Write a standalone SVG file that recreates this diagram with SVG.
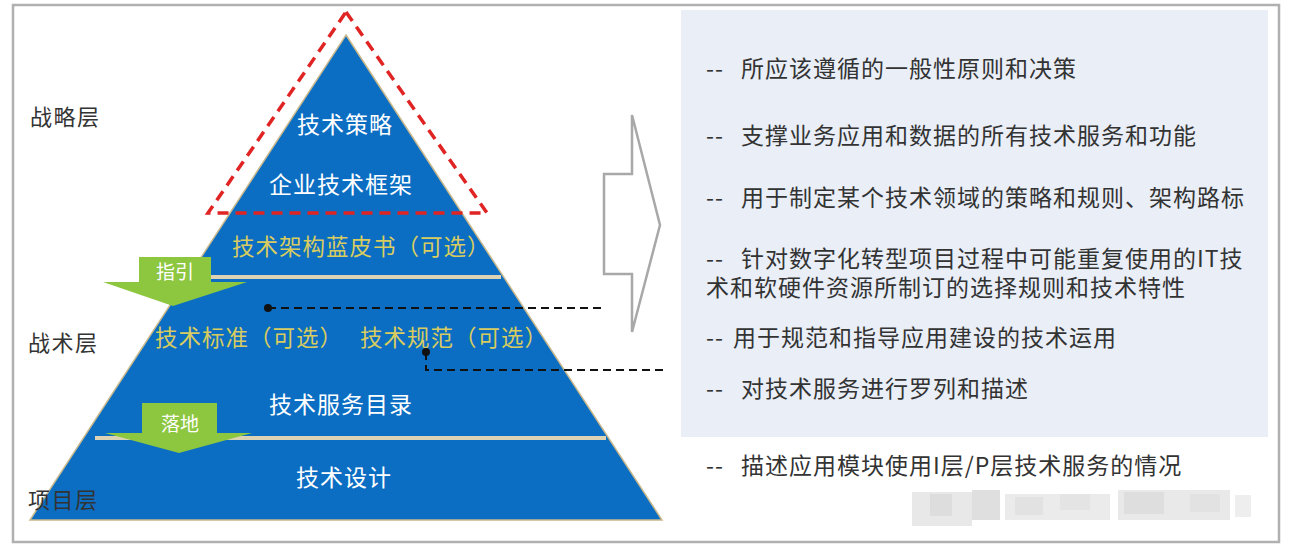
<svg xmlns="http://www.w3.org/2000/svg" width="1293" height="555" viewBox="0 0 1293 555">
<style>
text{font-family:"Noto Sans CJK SC","Noto Sans",sans-serif;}
.lbl{font-size:22px;fill:#333333;letter-spacing:1.5px;}
.w{font-size:23px;fill:#FFFFFF;text-anchor:middle;letter-spacing:1px;}
.y{font-size:22.5px;fill:#D8CC60;letter-spacing:1px;}
.g{font-size:19px;fill:#FFFFFF;text-anchor:middle;}
.r{font-size:23px;fill:#333333;letter-spacing:1px;}
.sep{stroke:#DCD2B4;stroke-width:4;}
.arrowG{fill:#8DC63F;}
.dash{fill:none;stroke:#111111;stroke-width:2;stroke-dasharray:8 5;}
</style>
<rect x="0" y="0" width="1293" height="555" fill="#FFFFFF"/>
<rect id="frame" x="13" y="5" width="1266" height="537" fill="none" stroke="#B0B0B0" stroke-width="2.5"/>
<rect id="panel" x="681" y="10" width="587" height="427" fill="#E9EEF7"/>

<g id="pyramid">
<polygon points="346,35 662,520 30,520" fill="#0B6EC3" stroke="#C9B88C" stroke-width="1.5"/>
<line class="sep" x1="192" y1="277" x2="501" y2="277"/>
<line class="sep" x1="95" y1="438" x2="606" y2="438"/>
</g>

<g id="labels">
<text class="lbl" x="30" y="125">战略层</text>
<text class="lbl" x="28" y="351">战术层</text>
<text class="lbl" x="28" y="508">项目层</text>
</g>

<g id="n-strategy"><text class="w" x="345" y="133">技术策略</text></g>
<g id="n-framework"><text class="w" x="341" y="193">企业技术框架</text></g>
<g id="n-bluebook"><text class="y" x="232" y="255">技术架构蓝皮书（可选）</text></g>
<g id="n-standard"><text class="y" x="155" y="346">技术标准（可选）</text></g>
<g id="n-spec"><text class="y" x="360" y="346">技术规范（可选）</text></g>
<g id="n-catalog"><text class="w" x="341" y="413">技术服务目录</text></g>
<g id="n-design"><text class="w" x="344" y="486">技术设计</text></g>

<g id="a-guide">
<polygon class="arrowG" points="139,257 211,257 211,282 247,282 173,306 103,282 139,282"/>
<text class="g" x="175" y="279">指引</text>
</g>
<g id="a-land">
<polygon class="arrowG" points="142,403 217,403 217,433 252,433 179,453 105,433 142,433"/>
<text class="g" x="180" y="431">落地</text>
</g>

<g id="red-box">
<polygon points="346,12 487,213 208,213" fill="none" stroke="#E02424" stroke-width="3.5" stroke-dasharray="11 7"/>
</g>

<g id="connectors">
<path class="dash" d="M268,308 H605"/>
<circle cx="268" cy="308" r="4" fill="#111111"/>
<path class="dash" d="M426,352 V370 H668"/>
<circle cx="426" cy="352" r="4" fill="#111111"/>
<polygon id="big-arrow" points="604,174 632,174 632,115 660,225 632,332 632,274 604,274" fill="none" stroke="#A8A8A8" stroke-width="2.5"/>
</g>

<g id="desc">
<text class="r" x="706" y="77">--<tspan x="741">所应该遵循的一般性原则和决策</tspan></text>
<text class="r" x="706" y="144">--<tspan x="741">支撑业务应用和数据的所有技术服务和功能</tspan></text>
<text class="r" x="706" y="206">--<tspan x="741">用于制定某个技术领域的策略和规则、架构路标</tspan></text>
<text class="r" x="706" y="267">--<tspan x="741">针对数字化转型项目过程中可能重复使用的IT技</tspan></text>
<text class="r" x="706" y="296">术和软硬件资源所制订的选择规则和技术特性</text>
<text class="r" x="706" y="346">--<tspan x="733">用于规范和指导应用建设的技术运用</tspan></text>
<text class="r" x="706" y="397">--<tspan x="741">对技术服务进行罗列和描述</tspan></text>
<text class="r" x="706" y="474">--<tspan x="741">描述应用模块使用I层/P层技术服务的情况</tspan></text>
</g>

<g id="blur" opacity="0.85">
<rect x="912" y="492" width="60" height="34" fill="#E4E4E4"/>
<rect x="930" y="494" width="22" height="22" fill="#D8D8D8"/>
<rect x="972" y="490" width="28" height="30" fill="#DADADA"/>
<rect x="1005" y="494" width="105" height="26" fill="#E8E8E8"/>
<rect x="1015" y="497" width="28" height="18" fill="#DEDEDE"/>
<rect x="1060" y="494" width="30" height="16" fill="#E0E0E0"/>
<rect x="1118" y="490" width="112" height="30" fill="#E6E6E6"/>
<rect x="1124" y="492" width="40" height="22" fill="#D9D9D9"/>
<rect x="1190" y="494" width="30" height="18" fill="#DDDDDD"/>
<rect x="1235" y="495" width="16" height="22" fill="#ECECEC"/>
</g>
</svg>
